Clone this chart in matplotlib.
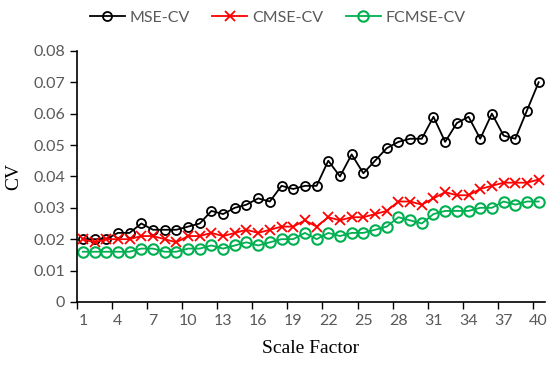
import matplotlib
matplotlib.use('Agg')
import matplotlib.pyplot as plt
import numpy as np

scale = np.arange(1, 41)
mse_cv = [0.020, 0.020, 0.020, 0.022, 0.022, 0.025, 0.023, 0.023, 0.023, 0.024,
          0.025, 0.029, 0.028, 0.030, 0.031, 0.033, 0.032, 0.037, 0.036, 0.037,
          0.037, 0.045, 0.040, 0.047, 0.041, 0.045, 0.049, 0.051, 0.052, 0.052,
          0.059, 0.051, 0.057, 0.059, 0.052, 0.060, 0.053, 0.052, 0.061, 0.070]
cmse_cv = [0.020, 0.019, 0.020, 0.020, 0.020, 0.021, 0.021, 0.020, 0.019, 0.021,
           0.021, 0.022, 0.021, 0.022, 0.023, 0.022, 0.023, 0.024, 0.024, 0.026,
           0.024, 0.027, 0.026, 0.027, 0.027, 0.028, 0.029, 0.032, 0.032, 0.031,
           0.033, 0.035, 0.034, 0.034, 0.036, 0.037, 0.038, 0.038, 0.038, 0.039]
fcmse_cv = [0.016, 0.016, 0.016, 0.016, 0.016, 0.017, 0.017, 0.016, 0.016, 0.017,
            0.017, 0.018, 0.017, 0.018, 0.019, 0.018, 0.019, 0.020, 0.020, 0.022,
            0.020, 0.022, 0.021, 0.022, 0.022, 0.023, 0.024, 0.027, 0.026, 0.025,
            0.028, 0.029, 0.029, 0.029, 0.030, 0.030, 0.032, 0.031, 0.032, 0.032]
xtick_labels = [1, 4, 7, 10, 13, 16, 19, 22, 25, 28, 31, 34, 37, 40]
ytick_labels = ['0', '0.01', '0.02', '0.03', '0.04', '0.05', '0.06', '0.07', '0.08']

plt.rcParams['font.family'] = ['Lato', 'DejaVu Sans']

fig = plt.figure(figsize=(5.5, 3.66), dpi=100)
ax = fig.add_axes([0.14, 0.175, 0.85, 0.686])

ax.plot(scale, mse_cv, color='black', marker='o', mfc='none', ms=6.5, mew=1.3, lw=1.3, label='MSE-CV')
ax.plot(scale, cmse_cv, color='#FF0000', marker='x', ms=6.5, mew=1.3, lw=1.3, label='CMSE-CV')
ax.plot(scale, fcmse_cv, color='#00B050', marker='o', mfc='none', ms=7.5, mew=1.5, lw=1.3, label='FCMSE-CV')

ax.set_xlim(0.5, 40.5)
ax.set_ylim(0, 0.08)
ax.set_xticks(xtick_labels)
ax.set_xticklabels([str(v) for v in xtick_labels])
ax.set_xticks(np.arange(0.5, 41, 3), minor=True)
ax.tick_params(axis='x', which='major', length=0, pad=9)
ax.tick_params(axis='x', which='minor', length=5, width=1, direction='out')
ax.set_yticks(np.arange(0, 0.081, 0.01))
ax.set_yticklabels(ytick_labels)
ax.tick_params(axis='y', length=5, width=1, direction='out')
ax.tick_params(labelsize=11.5, labelcolor='#595959')

for s in ['top', 'right']:
    ax.spines[s].set_visible(False)
for s in ['left', 'bottom']:
    ax.spines[s].set_linewidth(1.2)

ax.set_xlabel('Scale Factor', family='Liberation Serif', fontsize=14, labelpad=8)
ax.set_ylabel('CV', family='Liberation Serif', fontsize=14, labelpad=8)

fig.legend(loc='upper center', bbox_to_anchor=(0.505, 1.01), ncol=3, frameon=False,
           fontsize=11.5, labelcolor='#595959', handlelength=2.2, columnspacing=1.4,
           handletextpad=0.3)

plt.savefig('out.png', dpi=100)
